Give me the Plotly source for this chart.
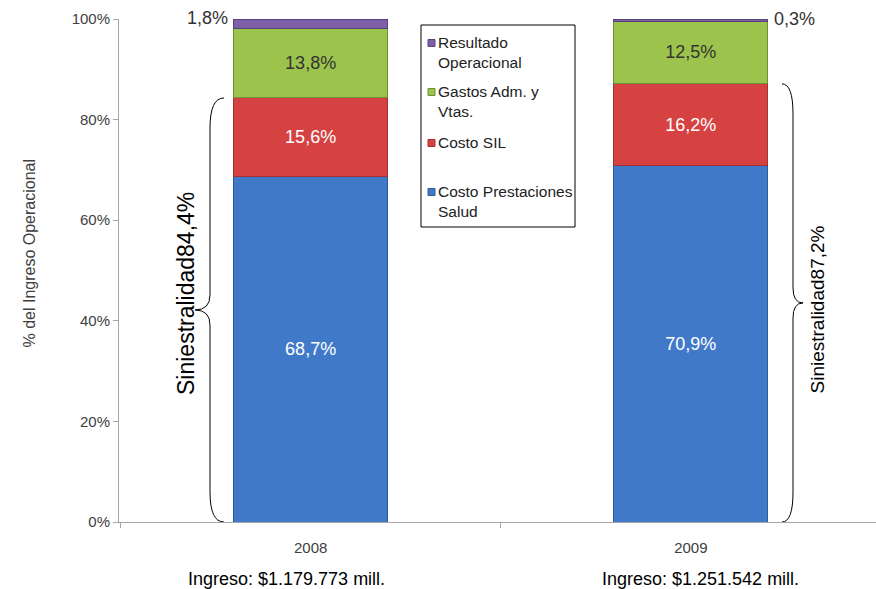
import plotly.graph_objects as go

# data
years = ["2008", "2009"]
costo_prestaciones = [68.7, 70.9]
costo_sil = [15.6, 16.2]
gastos_adm = [13.8, 12.5]
resultado_op = [1.8, 0.3]
siniestralidad = [84.4, 87.2]
ingresos = ["$1.179.773", "$1.251.542"]

series = [
    ("Costo Prestaciones Salud", "Costo Prestaciones<br>Salud", costo_prestaciones, "#4179c9", "#2f5a95", "white"),
    ("Costo SIL", "Costo SIL", costo_sil, "#d64242", "#a33131", "white"),
    ("Gastos Adm. y Vtas.", "Gastos Adm. y<br>Vtas.", gastos_adm, "#9cc44c", "#6e8f36", "#333333"),
    ("Resultado Operacional", "Resultado<br>Operacional", resultado_op, "#7f5fa7", "#57407a", "#333333"),
]

W, H = 876, 589
L, R, T, B = 119, 876, 19, 522


def px(x):
    return (x - L) / (R - L)


def py(y):
    return (B - y) / (B - T)


def fmt(v):
    return f"{v:.1f}".replace(".", ",") + "%"


fig = go.Figure()

for name, _, vals, color, edge, tcolor in series:
    show_text = name != "Resultado Operacional"
    fig.add_trace(go.Bar(
        x=years,
        y=vals,
        name=name,
        width=0.405,
        marker=dict(color=color, line=dict(color=edge, width=1)),
        text=[fmt(v) for v in vals] if show_text else None,
        textposition="inside" if show_text else "none",
        insidetextanchor="middle",
        textangle=0,
        constraintext="none",
        textfont=dict(family="Arial", size=18, color=tcolor),
        showlegend=False,
    ))

annotations = []
shapes = []

# small result labels next to the bar tops
annotations.append(dict(x=px(230), y=py(18), xref="paper", yref="paper", text=fmt(resultado_op[0]),
                        xanchor="right", yanchor="middle", showarrow=False,
                        font=dict(family="Arial", size=18, color="#333333")))
annotations.append(dict(x=px(772), y=py(19), xref="paper", yref="paper", text=fmt(resultado_op[1]),
                        xanchor="left", yanchor="middle", showarrow=False,
                        font=dict(family="Arial", size=18, color="#333333")))


# curly braces for siniestralidad
def brace(x_end, x_mid, x_tip, top):
    bot, mid = 0.0, top / 2
    d, d2 = 6.0, 3.0
    xe, xm, xt = px(x_end), px(x_mid), px(x_tip)
    return (f"M {xe},{top} Q {xm},{top} {xm},{top - d} "
            f"L {xm},{mid + d2} Q {xm},{mid} {xt},{mid} "
            f"Q {xm},{mid} {xm},{mid - d2} "
            f"L {xm},{bot + d} Q {xm},{bot} {xe},{bot}")


tops = [a + b for a, b in zip(costo_prestaciones, costo_sil)]
for path in (brace(224, 210, 195, tops[0]), brace(782, 793, 803, tops[1])):
    shapes.append(dict(type="path", path=path, xref="paper", yref="y",
                       line=dict(color="black", width=1)))

annotations.append(dict(x=px(171), y=py(294), xref="paper", yref="paper",
                        text=f"Siniestralidad{fmt(siniestralidad[0])}", textangle=-90,
                        showarrow=False, font=dict(family="Arial", size=23, color="black")))
annotations.append(dict(x=px(829), y=py(310), xref="paper", yref="paper",
                        text=f"Siniestralidad{fmt(siniestralidad[1])}", textangle=-90,
                        showarrow=False, font=dict(family="Arial", size=19, color="black")))

# y axis title
annotations.append(dict(x=px(18), y=py(253), xref="paper", yref="paper",
                        text="% del Ingreso Operacional", textangle=-90,
                        showarrow=False, font=dict(family="Arial", size=16, color="#404040")))

# manual legend box
shapes.append(dict(type="rect", xref="paper", yref="paper",
                   x0=px(421), x1=px(575), y0=py(25), y1=py(227),
                   line=dict(color="black", width=1), fillcolor="white"))
legend_rows = [43, 92, 143, 192]
for (name, label, _, color, edge, _), yc in zip(series[::-1], legend_rows):
    shapes.append(dict(type="rect", xref="paper", yref="paper",
                       x0=px(428), x1=px(435), y0=py(yc + 3.5), y1=py(yc - 3.5),
                       line=dict(color=edge, width=1), fillcolor=color))
    annotations.append(dict(x=px(436), y=py(yc - 11), xref="paper", yref="paper",
                            text=label, xanchor="left", yanchor="top", align="left",
                            showarrow=False, font=dict(family="Arial", size=15.5, color="#222222")))

# revenue captions under the categories
for xc, ing in zip([286, 700], ingresos):
    annotations.append(dict(x=px(xc), y=py(591), xref="paper", yref="paper",
                            text=f"Ingreso: {ing} mill.", xanchor="center", yanchor="bottom",
                            showarrow=False,
                            font=dict(family="Arial", size=18, color="black")))

fig.update_layout(
    barmode="stack",
    width=W, height=H,
    margin=dict(l=L, r=W - R, t=T, b=H - B),
    plot_bgcolor="white",
    paper_bgcolor="white",
    showlegend=False,
    annotations=annotations,
    shapes=shapes,
    xaxis=dict(
        type="category",
        range=[-0.504, 1.487],
        automargin=False,
        showline=True, linecolor="#a6a6a6", linewidth=1,
        ticks="outside", tickson="boundaries", ticklen=5, tickcolor="#a6a6a6",
        ticklabelstandoff=12,
        tickfont=dict(family="Arial", size=15, color="#404040"),
        showgrid=False,
    ),
    yaxis=dict(
        range=[0, 100],
        dtick=20,
        ticksuffix="%",
        automargin=False,
        showline=True, linecolor="#a6a6a6", linewidth=1,
        ticks="outside", ticklen=5, tickcolor="#a6a6a6",
        tickfont=dict(family="Arial", size=15, color="#404040"),
        showgrid=False, zeroline=False,
    ),
)

# the page's default body margin would shift the whole figure by 8px
fig.write_html("out.html", config={"displayModeBar": False},
               post_script="document.body.style.margin = '0';")
